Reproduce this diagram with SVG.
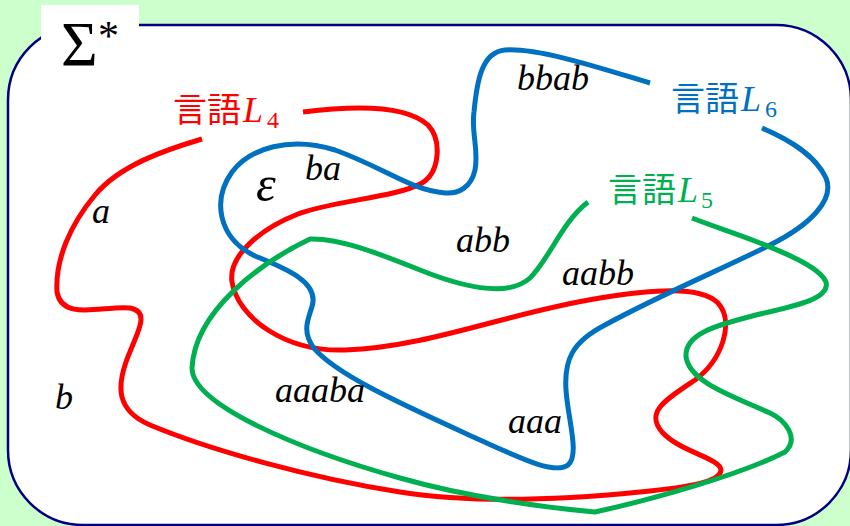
<svg xmlns="http://www.w3.org/2000/svg" width="850" height="526" viewBox="0 0 850 526">
<style>
.lang{fill:none;stroke-width:5;stroke-linecap:butt;stroke-linejoin:round}
.w{font-family:"Liberation Serif",serif;font-style:italic;font-size:36px;fill:#000}
.eps{font-size:50px}
.lab{font-family:"Noto Sans CJK JP","Noto Sans",sans-serif;font-size:34px}
.L{font-family:"Liberation Serif",serif;font-style:italic;font-size:36px}
.sub{font-family:"Liberation Serif",serif;font-size:24px}
</style>
<rect x="0" y="0" width="850" height="526" fill="#CCFFCC"/>
<g id="universe">
<rect x="8" y="25" width="843" height="500" rx="75" ry="75" fill="#FFFFFF" stroke="#000080" stroke-width="2.5"/>
<rect x="41" y="5" width="98" height="40" fill="#FFFFFF"/>
<text x="61" y="66" font-family="Liberation Serif,serif" font-size="63">Σ</text>
<text x="98" y="50" font-family="Liberation Serif,serif" font-size="42">*</text>
</g>
<g id="connectors">
<path id="L4curve" class="lang" stroke="#FF0000" d="M 303,112 C 350,106 405,104 428,125 C 442,140 440,172 422,183 C 395,198 335,200 298,214 C 262,228 228,255 232,282 C 238,318 285,352 345,350 C 430,347 510,312 600,298 C 650,290 700,285 718,303 C 735,322 722,360 695,380 C 665,400 645,412 662,432 C 680,452 720,458 721,470 C 720,482 690,487 640,492 C 560,500 470,503 400,492 C 310,478 210,450 150,425 C 115,410 118,385 126,362 C 136,334 152,312 130,308 C 105,305 62,322 57,292 C 55,260 70,225 95,195 C 120,165 165,150 202,139"/>
<path id="L6curve" class="lang" stroke="#0070C0" d="M 650,83 C 600,68 540,48 505,50 C 482,52 477,80 474,112 C 471,132 479,150 475,170 C 471,188 458,194 445,193 C 410,190 385,168 335,150 C 290,136 250,148 232,172 C 212,200 218,238 255,256 C 290,270 315,282 313,302 C 311,315 300,328 313,347 C 335,375 410,408 480,440 C 520,458 555,475 568,465 C 580,455 568,420 566,390 C 564,360 572,342 605,325 C 660,295 720,270 770,245 C 810,225 835,200 826,178 C 815,155 790,140 762,128"/>
<path id="L5curve" class="lang" stroke="#00B050" d="M 588,202 C 562,222 550,258 530,278 C 510,296 470,290 420,270 C 380,254 340,238 310,239 C 262,262 195,310 192,368 C 192,405 300,450 400,478 C 470,498 550,508 595,512 C 650,500 740,475 785,452 C 800,438 785,420 770,413 C 730,395 690,382 686,357 C 684,332 722,324 760,314 C 800,305 830,298 826,282 C 820,268 790,255 760,243 C 735,233 712,226 692,218"/>
</g>
<g id="label-L4" fill="#FF0000"><text class="lab" x="173" y="122">言語</text><text class="L" x="243" y="122">L</text><text class="sub" x="267" y="128">4</text></g>
<g id="label-L6" fill="#0070C0"><text class="lab" x="671" y="111">言語</text><text class="L" x="741" y="111">L</text><text class="sub" x="765" y="117">6</text></g>
<g id="label-L5" fill="#00B050"><text class="lab" x="608" y="202">言語</text><text class="L" x="678" y="202">L</text><text class="sub" x="701" y="208">5</text></g>
<g id="words">
<text class="w eps" x="256" y="201">ε</text>
<text class="w" x="305" y="180">ba</text>
<text class="w" x="92" y="223">a</text>
<text class="w" x="55" y="409">b</text>
<text class="w" x="275" y="402">aaaba</text>
<text class="w" x="456" y="252">abb</text>
<text class="w" x="562" y="285">aabb</text>
<text class="w" x="508" y="433">aaa</text>
<text class="w" x="517" y="90">bbab</text>
</g>
</svg>
